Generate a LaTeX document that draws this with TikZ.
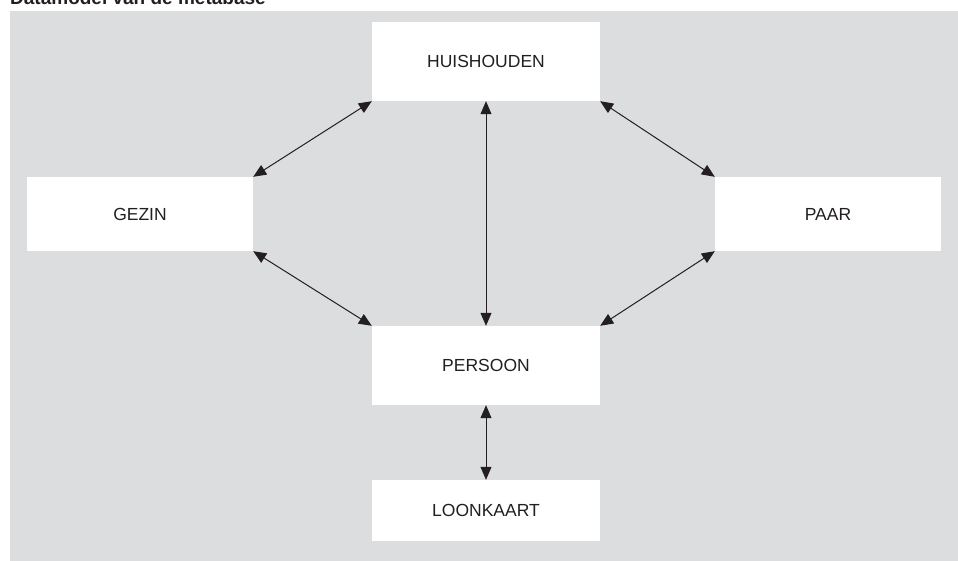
\documentclass[tikz,border=0pt]{standalone}
\usepackage{fontspec}
\setmainfont{Liberation Sans}
\usetikzlibrary{arrows.meta}
\definecolor{bg}{HTML}{DCDDDF}
\definecolor{ink}{HTML}{231F20}
\tikzset{
  entity/.style={fill=white, draw=none, inner sep=0pt, font=\fontsize{17.5}{20}\selectfont, text=ink},
  link/.style={draw=ink, line width=1pt, {Triangle[length=13pt,width=11pt]}-{Triangle[length=13pt,width=11pt]}, shorten <=0pt, shorten >=0pt}
}
\begin{document}
\begin{tikzpicture}[x=1pt,y=-1pt]
\useasboundingbox (0,0) rectangle (958,561);
\fill[bg] (10,11) rectangle (958,561);
\node[anchor=base west, inner sep=0pt, font=\fontsize{19}{22}\selectfont\bfseries, text=ink] (title) at (10,5) {Datamodel van de metabase};
\node[entity, minimum width=228pt, minimum height=79pt] (H) at (486,61.5) {HUISHOUDEN};
\node[entity, minimum width=226pt, minimum height=74pt] (G) at (140,214) {GEZIN};
\node[entity, minimum width=226pt, minimum height=74pt] (A) at (828,214) {PAAR};
\node[entity, minimum width=228pt, minimum height=79pt] (P) at (486,365.5) {PERSOON};
\node[entity, minimum width=228pt, minimum height=61pt] (L) at (486,510.5) {LOONKAART};
\draw[link] (H.south west) -- (G.north east);
\draw[link] (H.south east) -- (A.north west);
\draw[link] (H.south) -- (P.north);
\draw[link] (G.south east) -- (P.north west);
\draw[link] (A.south west) -- (P.north east);
\draw[link] (P.south) -- (L.north);
\end{tikzpicture}
\end{document}
